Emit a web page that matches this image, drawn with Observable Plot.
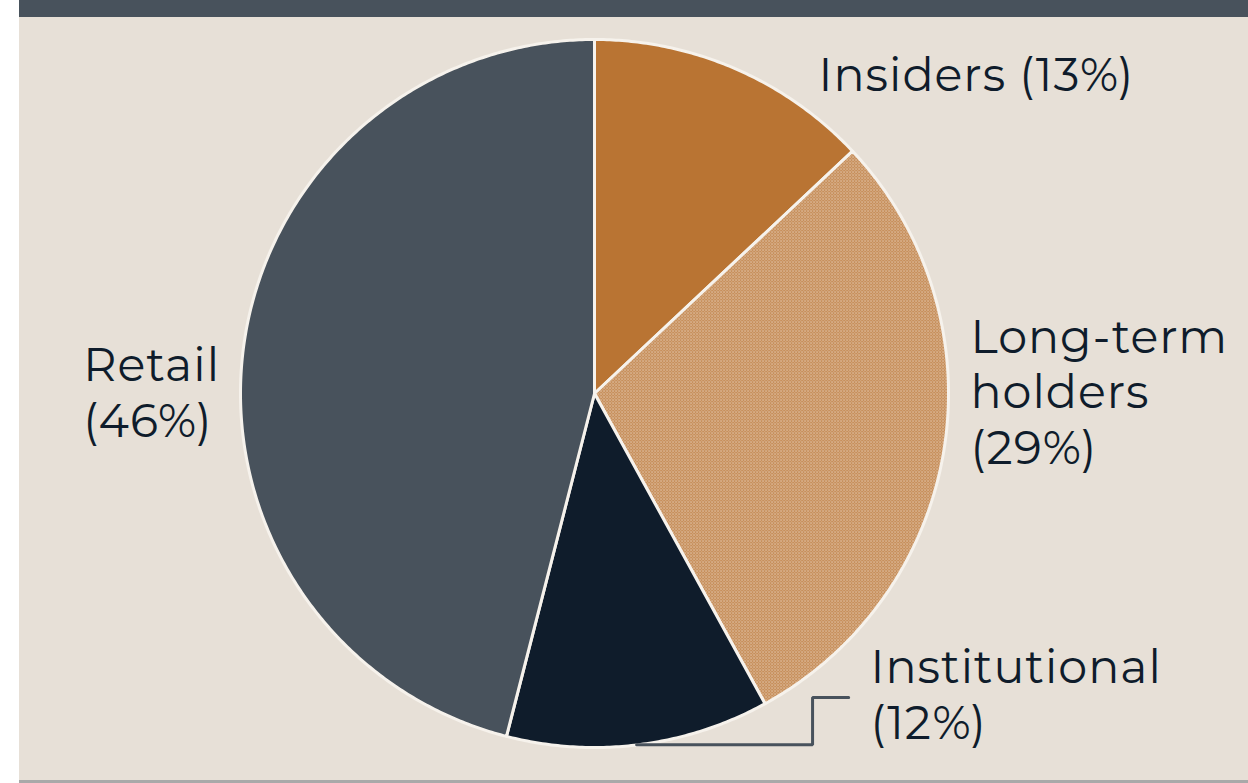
<!DOCTYPE html>
<html><head><meta charset="utf-8">
<script src="https://cdn.jsdelivr.net/npm/d3@7"></script>
<script src="https://cdn.jsdelivr.net/npm/@observablehq/plot@0.6"></script>
<style>
html,body{margin:0;padding:0;background:#fff;}
body{width:1248px;height:783px;overflow:hidden;position:relative;}
#panel{position:absolute;left:19px;top:0;width:1229px;height:780px;background:#e7e0d7;border-top:17px solid #48525c;box-sizing:border-box;box-shadow:0 3px 0 #a9a9a9;}
#chart{position:absolute;left:0;top:0;}
</style></head>
<body><div id="panel"></div><div id="chart"></div>
<script>
// ---- data ----
const categories = ["Insiders", "Long-term holders", "Institutional", "Retail"];
const shares = [13, 29, 12, 46];
const displayNames = ["Insiders", "Long-term\nholders", "Institutional", "Retail"];
const labelBreaks = [" ", "\n", "\n", "\n"];

// ---- styles / layout ----
const sliceColors = ["#b97433", "url(#chk)", "#0f1c2b", "#48525c"];
const labelPos = [ // in pie-radius units (center = 0,0)
  {x: 0.633, y: 0.904},
  {x: 1.062, y: 0.008},
  {x: 0.780, y: -0.847},
  {x: -1.444, y: 0.006}
];
const leader = [{x: 0.119, y: -0.992}, {x: 0.616, y: -0.992}, {x: 0.616, y: -0.859}, {x: 0.718, y: -0.859}];

// slice outlines from d3.pie
const arcs = d3.pie().sort(null).value(d => d)(shares);
const slicePts = [];
arcs.forEach((a, i) => {
  const name = categories[i];
  slicePts.push({name, x: 0, y: 0});
  const n = Math.max(2, Math.ceil((a.endAngle - a.startAngle) / (Math.PI / 360)));
  for (let k = 0; k <= n; k++) {
    const t = a.startAngle + (a.endAngle - a.startAngle) * k / n;
    slicePts.push({name, x: Math.sin(t), y: Math.cos(t)});
  }
  slicePts.push({name, x: 0, y: 0});
});

const labelData = categories.map((c, i) => ({
  text: `${displayNames[i]}${labelBreaks[i]}(${shares[i]}%)`,
  x: labelPos[i].x, y: labelPos[i].y
}));

const cx = 594, cy = 393, R = 354;
const chart = Plot.plot({
  width: 1248, height: 783, margin: 0,
  x: {domain: [-1, 1], range: [cx - R, cx + R], axis: null},
  y: {domain: [-1, 1], range: [cy + R, cy - R], axis: null},
  color: {type: "ordinal", domain: categories, range: sliceColors},
  style: {background: "transparent", overflow: "visible", fontFamily: "Montserrat, 'Noto Sans', sans-serif"},
  marks: [
    Plot.line(slicePts, {x: "x", y: "y", z: "name", fill: "name", stroke: "#f6f2ec", strokeWidth: 3, strokeLinejoin: "round"}),
    Plot.line(leader, {x: "x", y: "y", stroke: "#48525c", strokeWidth: 3, strokeLinejoin: "miter"}),
    Plot.text(labelData, {x: "x", y: "y", text: "text", textAnchor: "start", lineAnchor: "middle", lineHeight: 1.2, fontSize: 46, fill: "#0f1c2b"})
  ]
});

const svg = d3.select(chart);
svg.selectAll("text").style("letter-spacing", "1px");
const pat = svg.insert("defs", ":first-child").append("pattern")
  .attr("id", "chk").attr("width", 3).attr("height", 3).attr("patternUnits", "userSpaceOnUse");
pat.append("rect").attr("width", 3).attr("height", 3).attr("fill", "#b97433");
pat.append("rect").attr("x", 0).attr("y", 0).attr("width", 1.2).attr("height", 1.2).attr("fill", "#fbf8f3");
pat.append("rect").attr("x", 1.5).attr("y", 1.5).attr("width", 1.2).attr("height", 1.2).attr("fill", "#fbf8f3");
document.getElementById("chart").appendChild(chart);
</script></body></html>
